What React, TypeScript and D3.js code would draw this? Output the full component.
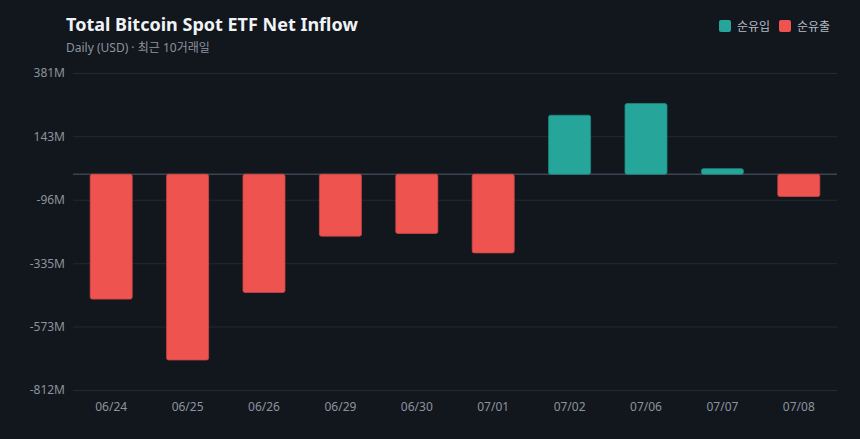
import React, { useEffect, useRef } from 'react';
import * as d3 from 'd3';

const dates = ['06/24', '06/25', '06/26', '06/29', '06/30', '07/01', '07/02', '07/06', '07/07', '07/08'];
const netFlow = [-470, -699, -445, -233, -223, -296, 222, 266, 21, -84]; // USD millions
const yTicks = [381, 143, -96, -335, -573, -812];
const legendItems = ['순유입', '순유출'];

const W = 860;
const H = 439;
const UP = '#26a69a';
const DOWN = '#ef5350';
const FONT = '"Noto Sans", "Noto Sans CJK KR", sans-serif';

const FlowChart = () => {
  const svgRef = useRef<SVGSVGElement | null>(null);

  useEffect(() => {
    const svg = d3.select(svgRef.current);
    svg.selectAll('*').remove();

    // plot area
    const left = 73;
    const right = 837;
    const top = 73;
    const bottom = 390;

    const x = d3.scaleBand<string>().domain(dates).range([left, right]).paddingInner(0.45).paddingOuter(0.225);
    const y = d3.scaleLinear().domain([-812, 381]).range([bottom, top]);

    svg.append('rect').attr('width', W).attr('height', H).attr('fill', '#12161d');

    // title
    svg.append('text')
      .attr('x', 66).attr('y', 31)
      .attr('fill', '#f0f3f6')
      .attr('font-family', FONT)
      .attr('font-size', 18)
      .attr('font-weight', 700)
      .text('Total Bitcoin Spot ETF Net Inflow');

    svg.append('text')
      .attr('x', 66).attr('y', 52)
      .attr('fill', '#8b949e')
      .attr('font-family', FONT)
      .attr('font-size', 12)
      .text('Daily (USD) · 최근 10거래일');

    // legend
    const legend = svg.append('g').attr('font-family', FONT).attr('font-size', 12);
    const legendX = [719, 779];
    legendItems.forEach((label, i) => {
      legend.append('rect')
        .attr('x', legendX[i]).attr('y', 20)
        .attr('width', 12).attr('height', 12)
        .attr('rx', 2)
        .attr('fill', i === 0 ? UP : DOWN);
      legend.append('text')
        .attr('x', legendX[i] + 18).attr('y', 31)
        .attr('fill', '#b5bcc5')
        .text(label);
    });

    // grid + y labels
    const yAxis = d3.axisLeft(y)
      .tickValues(yTicks)
      .tickSize(-(right - left))
      .tickPadding(8)
      .tickFormat((d) => `${d}M`);
    const gy = svg.append('g').attr('transform', `translate(${left},0)`).call(yAxis);
    gy.select('.domain').remove();
    gy.selectAll('.tick line').attr('stroke', '#232a33').attr('stroke-width', 1);
    gy.selectAll('.tick text')
      .attr('fill', '#8b949e')
      .attr('font-family', FONT)
      .attr('font-size', 12);

    // zero line
    svg.append('line')
      .attr('x1', left).attr('x2', right)
      .attr('y1', y(0)).attr('y2', y(0))
      .attr('stroke', '#3b4450').attr('stroke-width', 1.5);

    // bars
    svg.append('g')
      .selectAll('rect')
      .data(netFlow)
      .join('rect')
      .attr('x', (_, i) => x(dates[i]) as number)
      .attr('width', x.bandwidth())
      .attr('y', (d) => y(Math.max(0, d)))
      .attr('height', (d) => Math.abs(y(d) - y(0)))
      .attr('rx', 2)
      .attr('fill', (d) => (d >= 0 ? UP : DOWN))
      .attr('stroke', (d) => (d >= 0 ? '#1f8a80' : '#c94745'))
      .attr('stroke-width', 0.8);

    // x labels
    const xAxis = d3.axisBottom(x).tickSize(0).tickPadding(10);
    const gx = svg.append('g').attr('transform', `translate(0,${bottom + 2})`).call(xAxis);
    gx.select('.domain').remove();
    gx.selectAll('.tick text')
      .attr('fill', '#8b949e')
      .attr('font-family', FONT)
      .attr('font-size', 12);
  }, []);

  return (
    <svg
      ref={svgRef}
      width={W}
      height={H}
      style={{ position: 'absolute', top: 0, left: 0, display: 'block' }}
    ></svg>
  );
};

export default function App() {
  return <FlowChart />;
}
